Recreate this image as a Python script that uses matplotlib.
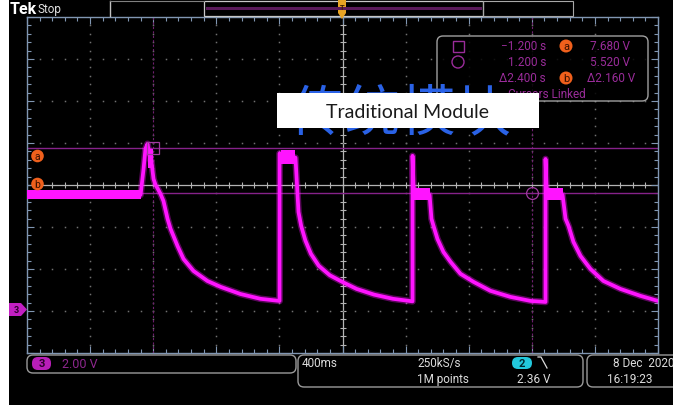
"""Tek scope capture: traditional module output, channel 3."""

import numpy as np
import matplotlib
matplotlib.use("Agg")  # non-interactive backend
import matplotlib.pyplot as plt
from matplotlib.patches import FancyBboxPatch, Rectangle, Circle, Polygon

W, H = 673, 406

# scope setup
SEC_PER_DIV = 0.4
VOLT_PER_DIV = 2.0
T_RANGE = (-2.0, 2.0)
V_RANGE = (-2.1, 13.9)

# channel 3 trace (seconds, volts)
trace_t = [-2.0, -1.280, -1.261, -1.249, -1.236, -1.223, -1.211, -1.198, -1.185,
           -1.173, -1.154, -1.135, -1.109, -1.090, -1.046, -1.008, -0.945, -0.856,
           -0.773, -0.647, -0.520, -0.399,
           -0.399, -0.298, -0.279, -0.262, -0.235, -0.200, -0.150, -0.080, 0.0,
           0.090, 0.200, 0.320, 0.444,
           0.444, 0.450, 0.456, 0.552, 0.564, 0.577, 0.602, 0.640, 0.685, 0.748,
           0.830, 0.938, 1.065, 1.192, 1.287,
           1.287, 1.293, 1.300, 1.395, 1.414, 1.433, 1.464, 1.509, 1.572, 1.654,
           1.762, 1.889, 2.0]
trace_v = [5.43, 5.43, 6.67, 7.62, 7.86, 7.30, 7.00, 6.19, 5.90,
           5.75, 5.48, 5.14, 4.29, 3.81, 3.00, 2.38, 1.81, 1.33,
           1.05, 0.71, 0.48, 0.38,
           7.40, 7.20, 4.62, 3.95, 3.25, 2.62, 2.05, 1.60, 1.28,
           0.95, 0.68, 0.48, 0.36,
           7.29, 5.90, 5.50, 5.43, 4.29, 3.95, 3.33, 2.71, 2.24, 1.67,
           1.29, 0.86, 0.57, 0.38, 0.33,
           7.14, 5.90, 5.50, 5.43, 4.29, 3.95, 3.19, 2.52, 1.90, 1.33,
           0.95, 0.62, 0.38]

# noisy stretches: start, end, low, high
noise_t0 = [-2.0, -1.232, -0.393, 0.450, 1.293]
noise_t1 = [-1.280, -1.200, -0.298, 0.552, 1.395]
noise_lo = [5.22, 6.70, 6.90, 5.18, 5.18]
noise_hi = [5.68, 7.60, 7.55, 5.78, 5.78]

# cursors
cursor_t = [-1.2, 1.2]
cursor_v = [7.68, 5.52]

readout_time = ["\u22121.200 s", "1.200 s", "\u03942.400 s"]
readout_volt = ["7.680 V", "5.520 V", "\u03942.160 V"]

MAGENTA = "#ff14ff"
DIM = "#9a2c9a"
FRAME = "#8096b2"
GRID = "#707070"
ORANGE = "#f0601c"
FONT = "Roboto"

fig = plt.figure(figsize=(W / 100, H / 100), dpi=100, facecolor="black")

# graticule
ax = fig.add_axes([27 / W, (H - 354) / H, 631 / W, 336 / H])
ax.set_facecolor("black")
ax.set_xlim(*T_RANGE)
ax.set_ylim(*V_RANGE)

sub_t = T_RANGE[0] + np.arange(0, 51) * SEC_PER_DIV / 5
sub_v = V_RANGE[0] + np.arange(0, 41) * VOLT_PER_DIV / 5
for k in range(1, 10):
    t = T_RANGE[0] + k * SEC_PER_DIV
    if k == 5:
        ax.axvline(t, color="#b4b4b4", lw=0.9, zorder=1)
        ax.plot(np.full_like(sub_v, t), sub_v, ls="none", marker="_", ms=5,
                mew=0.8, color="#b4b4b4", zorder=1)
    else:
        ax.plot(np.full_like(sub_v, t), sub_v, ls="none", marker="s", ms=1.1,
                mew=0, color=GRID, zorder=1)
for k in range(1, 8):
    v = V_RANGE[0] + k * VOLT_PER_DIV
    if k == 4:
        ax.axhline(v, color="#b4b4b4", lw=0.9, zorder=1)
        ax.plot(sub_t, np.full_like(sub_t, v), ls="none", marker="|", ms=5,
                mew=0.8, color="#b4b4b4", zorder=1)
    else:
        ax.plot(sub_t, np.full_like(sub_t, v), ls="none", marker="s", ms=1.1,
                mew=0, color=GRID, zorder=1)

ax.set_xticks(T_RANGE[0] + np.arange(0, 11) * SEC_PER_DIV)
ax.set_xticks(sub_t, minor=True)
ax.set_yticks(V_RANGE[0] + np.arange(0, 9) * VOLT_PER_DIV)
ax.set_yticks(sub_v, minor=True)
ax.tick_params(which="both", direction="in", top=True, right=True,
               labelbottom=False, labelleft=False, color=FRAME, width=0.8)
ax.tick_params(which="major", length=5)
ax.tick_params(which="minor", length=3)
for sp in ax.spines.values():
    sp.set_color(FRAME)
    sp.set_linewidth(1.0)

# cursors
for t in cursor_t:
    ax.axvline(t, color="#6e1f6e", lw=0.8, ls=(0, (2, 2)), zorder=2)
for v in cursor_v:
    ax.axhline(v, color="#86228a", lw=1.0, zorder=2)

# trace
for t0, t1, lo, hi in zip(noise_t0, noise_t1, noise_lo, noise_hi):
    ax.fill_between([t0, t1], lo, hi, color=MAGENTA, lw=0, zorder=3)
ax.plot(trace_t, trace_v, color=MAGENTA, lw=4.8, alpha=0.35, zorder=3,
        solid_joinstyle="round")
ax.plot(trace_t, trace_v, color=MAGENTA, lw=2.7, zorder=4,
        solid_joinstyle="round")

ax.plot(cursor_t[0], cursor_v[0], ls="none", marker="s", ms=8.5, mfc="none",
        mec="#a03aa0", mew=0.9, zorder=5)
ax.plot(cursor_t[1], cursor_v[1], ls="none", marker="o", ms=8.5, mfc="none",
        mec="#a03aa0", mew=0.9, zorder=5)

# screen furniture in pixel space
ui = fig.add_axes([0, 0, 1, 1], zorder=10)
ui.set_xlim(0, W)
ui.set_ylim(H, 0)
ui.axis("off")
ui.patch.set_alpha(0)

ui.add_patch(Rectangle((0, 0), 9, H, color="white", lw=0))

# top bar
ui.text(10, 9, "Tek", color="white", fontsize=11.5, fontweight="bold",
        family=FONT, va="center")
ui.text(38, 9, "Stop", color="#e0e0e0", fontsize=8.5, family=FONT, va="center")
ui.plot([110, 110], [2, 17], color="#c0c0c0", lw=1.0)
ui.plot([110, 204], [2, 2], color="#808080", lw=0.8)
ui.add_patch(Rectangle((204, 2), 279, 15, fill=False, ec="#c8c8c8", lw=0.9))
ui.plot([207, 480], [9, 9], color="#5a1a5a", lw=2.2)
ui.add_patch(Rectangle((483, 2), 90, 15, fill=False, ec="#a8a8a8", lw=0.8))
ui.add_patch(Polygon([(338, 1), (346, 1), (346, 14), (342, 20), (338, 14)],
                     closed=True, fc="#e8a424", ec="none"))
ui.text(342, 8, "T", color="#402000", fontsize=5.5, ha="center", va="center",
        family=FONT, fontweight="bold")

# a / b markers and channel 3 ground
for y, lab in [(157, "a"), (185, "b")]:
    ui.add_patch(Circle((37.5, y), 6.3, fc=ORANGE, ec="none"))
    ui.text(37.5, y, lab, color="#3a1000", fontsize=7.5, ha="center",
            va="center", family=FONT)
ui.add_patch(Polygon([(9, 304), (21, 304), (27, 310.5), (21, 317), (9, 317)],
                     closed=True, fc="#c21fc2", ec="none"))
ui.text(16, 310.5, "3", color="#2a002a", fontsize=6.5, ha="center",
        va="center", family=FONT, fontweight="bold")

# cursor readout
ui.add_patch(FancyBboxPatch((437, 37), 211, 65,
                            boxstyle="round,pad=0,rounding_size=6",
                            fc=(0, 0, 0, 0.85), ec="#a0a0a0", lw=1.0, zorder=1))
ui.add_patch(Rectangle((452.5, 41.5), 11, 11, fill=False, ec=DIM, lw=1.0))
ui.add_patch(Circle((458, 63), 6, fill=False, ec=DIM, lw=1.0))
for i, y in enumerate([47, 63, 79]):
    ui.text(546, y, readout_time[i], color=DIM, fontsize=8.5, family=FONT,
            ha="right", va="center")
    ui.text(635 if i == 2 else 630, y, readout_volt[i], color=DIM, fontsize=8.5,
            family=FONT, ha="right", va="center")
for y, lab in [(47, "a"), (79, "b")]:
    ui.add_patch(Circle((566, y), 6.5, fc=ORANGE, ec="none"))
    ui.text(566, y, lab, color="#3a1000", fontsize=8, ha="center",
            va="center", family=FONT)
ui.text(547, 95, "Cursors Linked", color=DIM, fontsize=8.5, family=FONT,
        ha="center", va="center", zorder=2)

# slide caption over the capture
ui.text(400, 115, "传统模块", color="#2a62e6", fontsize=40,
        family=["Noto Sans CJK SC", "DejaVu Sans"], ha="center", va="center",
        zorder=5)
ui.add_patch(Rectangle((277, 94), 262, 35, fc="white", ec="none", zorder=6))
ui.text(408, 112, "Traditional Module", color="#1a1a1a", fontsize=14,
        family="Lato", ha="center", va="center", zorder=7)

# bottom bar
ui.add_patch(FancyBboxPatch((27, 356), 269, 18,
                            boxstyle="round,pad=0,rounding_size=6",
                            fc="black", ec="#9a9a9a", lw=1.0))
ui.add_patch(FancyBboxPatch((32, 358), 19, 13,
                            boxstyle="round,pad=0,rounding_size=6",
                            fc="#b81eb8", ec="none"))
ui.text(41.5, 364.5, "3", color="#2a002a", fontsize=8, ha="center",
        va="center", family=FONT, fontweight="bold")
ui.text(62, 365, "2.00 V", color="#8e278e", fontsize=9, family=FONT,
        va="center")

ui.add_patch(FancyBboxPatch((298, 356), 285, 32,
                            boxstyle="round,pad=0,rounding_size=6",
                            fc="black", ec="#9a9a9a", lw=1.0))
TXT = "#dcdcdc"
ui.text(302, 364, "400ms", color=TXT, fontsize=8.5, family=FONT, va="center")
ui.text(417, 364, "250kS/s", color=TXT, fontsize=8.5, family=FONT, va="center")
ui.text(417, 380, "1M points", color=TXT, fontsize=8.5, family=FONT,
        va="center")
ui.add_patch(FancyBboxPatch((512, 358), 20, 12,
                            boxstyle="round,pad=0,rounding_size=6",
                            fc="#22c8dc", ec="none"))
ui.text(522, 364, "2", color="#002a30", fontsize=8, ha="center", va="center",
        family=FONT, fontweight="bold")
ui.plot([538, 541, 547], [358, 358, 369], color=TXT, lw=0.9)
ui.text(517, 380, "2.36 V", color=TXT, fontsize=8.5, family=FONT, va="center")

ui.add_patch(FancyBboxPatch((587, 356), 100, 32,
                            boxstyle="round,pad=0,rounding_size=6",
                            fc="black", ec="#9a9a9a", lw=1.0))
ui.text(613, 364, "8 Dec  2020", color=TXT, fontsize=8.5, family=FONT,
        va="center")
ui.text(607, 380, "16:19:23", color=TXT, fontsize=8.5, family=FONT,
        va="center")

fig.savefig("out.png", dpi=100, facecolor="black")
plt.close(fig)
